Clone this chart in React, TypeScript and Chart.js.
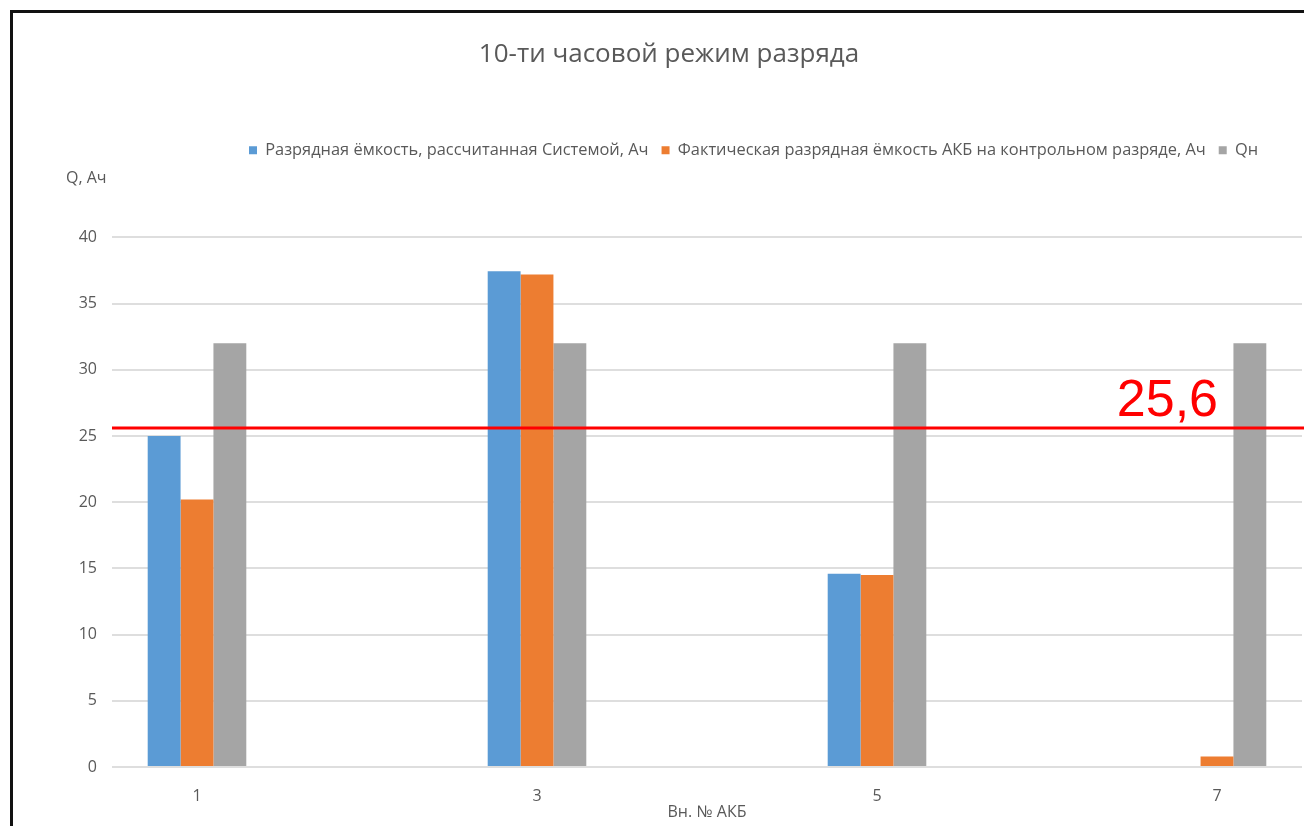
import { useEffect, useRef } from 'react';
import { Chart, registerables } from 'chart.js';

Chart.register(...registerables);

// Battery numbers (categories) and measured capacities, Ah
const categories = ['1', '2', '3', '4', '5', '6', '7'];
const calculatedCapacity = [25.0, null, 37.45, null, 14.6, null, 0];
const actualCapacity = [20.2, null, 37.2, null, 14.5, null, 0.8];
const nominalCapacity = [32, null, 32, null, 32, null, 32];

const seriesNames = [
  'Разрядная ёмкость, рассчитанная Системой, Ач',
  'Фактическая разрядная ёмкость АКБ на контрольном разряде, Ач',
  'Qн',
];
const seriesColors = ['#5b9bd5', '#ed7d31', '#a5a5a5'];

const thresholdValue = 25.6;
const thresholdLabel = '25,6';

const chartTitle = '10-ти часовой режим разряда';
const xAxisTitle = 'Вн. № АКБ';
const yAxisUnit = 'Q, Ач';

const yMin = 0;
const yMax = 40;
const yStep = 5;

const TEXT = '#595959';
const FONT = '"Open Sans", "DejaVu Sans", sans-serif';

// Horizontal red limit line with its value written above the right end
const thresholdPlugin = {
  id: 'thresholdLine',
  afterDatasetsDraw(chart: any) {
    const { ctx, chartArea, scales } = chart;
    const y = scales.y.getPixelForValue(thresholdValue);
    ctx.save();
    ctx.strokeStyle = '#ff0000';
    ctx.lineWidth = 3;
    ctx.beginPath();
    ctx.moveTo(chartArea.left, y);
    ctx.lineTo(chart.width, y);
    ctx.stroke();
    ctx.fillStyle = '#ff0000';
    ctx.font = '52px "Liberation Sans", Arial, sans-serif';
    ctx.textAlign = 'right';
    ctx.textBaseline = 'alphabetic';
    ctx.fillText(thresholdLabel, scales.x.getPixelForValue(categories.length - 1) + 1, y - 12);
    ctx.restore();
  },
};

// Moves the title, legend and unit caption horizontally after layout
const placementPlugin = {
  id: 'placement',
  afterLayout(chart: any) {
    const title = chart.titleBlock;
    if (title) {
      title.left += 18;
      title.right += 18;
    }
    const legend = chart.legend;
    if (legend) {
      const dx = 249 - (legend.left + legend.options.labels.padding);
      legend.left += dx;
      legend.right += dx;
    }
    const unit = chart.boxes.find((b: any) => b.options && b.options.text === yAxisUnit);
    if (unit) {
      const dx = 66 - unit.left;
      unit.left += dx;
      unit.right += dx;
    }
  },
};

export default function App() {
  const canvasRef = useRef<HTMLCanvasElement>(null);

  useEffect(() => {
    if (!canvasRef.current) return;
    const datasets = [calculatedCapacity, actualCapacity, nominalCapacity].map((data, i) => ({
      label: seriesNames[i],
      data,
      backgroundColor: seriesColors[i],
      borderWidth: 0,
      barPercentage: 1,
      categoryPercentage: 0.58,
    }));

    const chart = new Chart(canvasRef.current, {
      type: 'bar',
      data: { labels: categories, datasets },
      plugins: [thresholdPlugin, placementPlugin],
      options: {
        animation: false,
        responsive: false,
        maintainAspectRatio: false,
        layout: { padding: { left: 0, right: 2, top: 0, bottom: 0 } },
        font: { family: FONT },
        color: TEXT,
        plugins: {
          tooltip: { enabled: false },
          title: {
            display: true,
            text: chartTitle,
            color: TEXT,
            font: { family: FONT, size: 26, weight: 'normal', lineHeight: 1.2 },
            padding: { top: 39.4, bottom: 58.4 },
          },
          legend: {
            display: true,
            position: 'top',
            align: 'start',
            labels: {
              color: TEXT,
              font: { family: FONT, size: 16.4 },
              boxWidth: 8,
              boxHeight: 8,
              padding: 13,
            },
          },
          subtitle: {
            display: true,
            text: yAxisUnit,
            align: 'start',
            weight: 500,
            color: TEXT,
            font: { family: FONT, size: 16, weight: 'normal', lineHeight: 1.2 },
            padding: { top: 0, bottom: 49.8 },
          },
        } as any,
        scales: {
          x: {
            grid: { display: false, drawTicks: false },
            border: { display: false },
            ticks: {
              color: TEXT,
              font: { family: FONT, size: 16 },
              padding: 20,
              autoSkip: false,
              maxRotation: 0,
              callback: (_v: any, index: number) => (index % 2 === 0 ? categories[index] : ''),
            },
            title: {
              display: true,
              text: xAxisTitle,
              color: TEXT,
              font: { family: FONT, size: 16, lineHeight: 1.2 },
              padding: { top: 0, bottom: 4.4 },
            },
            afterFit: (scale: any) => {
              scale.height = 59;
            },
          },
          y: {
            min: yMin,
            max: yMax,
            grid: { color: '#dedede', lineWidth: 2, drawTicks: false },
            border: { display: false },
            ticks: {
              stepSize: yStep,
              color: TEXT,
              font: { family: FONT, size: 16 },
              padding: 15,
            },
            afterFit: (scale: any) => {
              scale.width = 112;
            },
          },
        },
      },
    } as any);

    return () => chart.destroy();
  }, []);

  return (
    <div
      style={{
        position: 'fixed',
        left: 0,
        top: 0,
        width: 1304,
        height: 826,
        overflow: 'hidden',
        background: '#ffffff',
      }}
    >
      <div
        style={{
          position: 'absolute',
          left: 10,
          top: 10,
          width: 1400,
          height: 900,
          borderLeft: '3px solid #111',
          borderTop: '3px solid #111',
        }}
      />
      <canvas
        ref={canvasRef}
        width={1304}
        height={826}
        style={{ position: 'absolute', left: 0, top: 0, width: 1304, height: 826 }}
      />
    </div>
  );
}
